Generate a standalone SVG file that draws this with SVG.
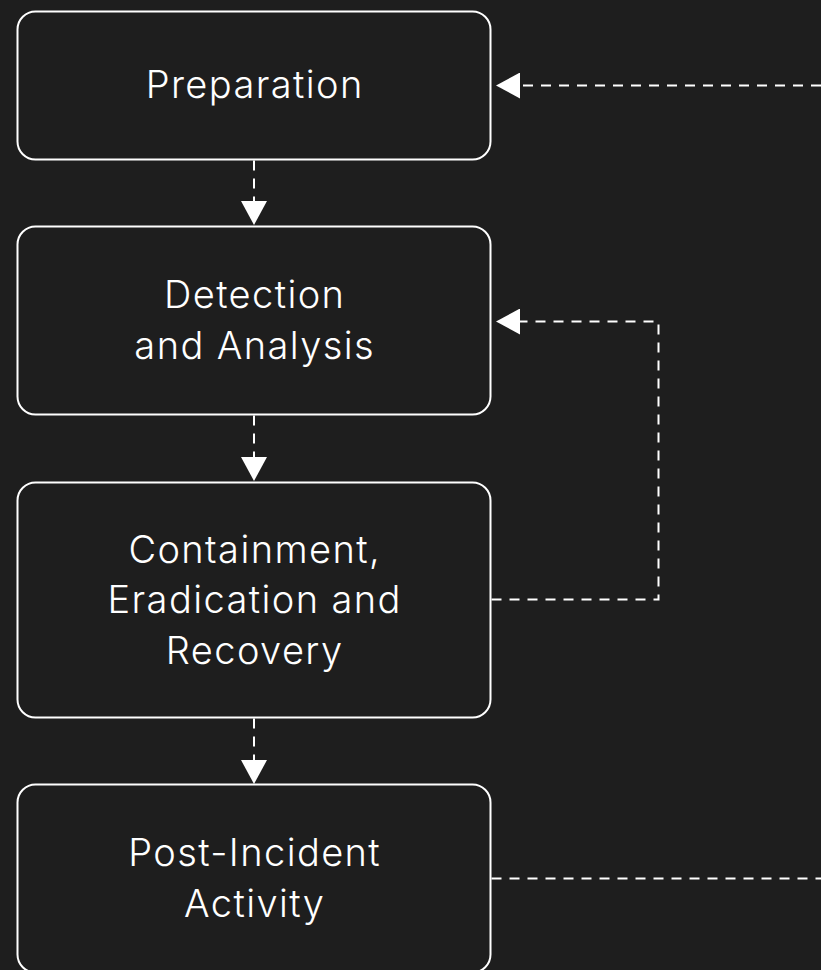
<svg xmlns="http://www.w3.org/2000/svg" width="821" height="970" viewBox="0 0 821 970">
  <style>
    .box { fill: #1e1e1e; stroke: #ffffff; stroke-width: 2; }
    .lbl { fill: #ffffff; font-family: Inter, "Noto Sans", "Liberation Sans", sans-serif; font-size: 38px; font-weight: 300; letter-spacing: 1.4px; text-anchor: middle; }
    .conn { fill: none; stroke: #ffffff; stroke-width: 2; stroke-dasharray: 10 8; }
  </style>
  <defs>
    <marker id="arrow" markerUnits="userSpaceOnUse" markerWidth="24" markerHeight="26" viewBox="0 0 24 26" refX="0" refY="13" orient="auto">
      <path d="M0,0 L24,13 L0,26 Z" fill="#ffffff"/>
    </marker>
  </defs>
  <rect width="821" height="970" fill="#1e1e1e"/>

  <g id="node-preparation">
    <rect class="box" x="17.5" y="11.5" width="473" height="148" rx="18"/>
    <text class="lbl" x="254.7" y="98">Preparation</text>
  </g>
  <g id="node-detection">
    <rect class="box" x="17.5" y="226.5" width="473" height="188" rx="18"/>
    <text class="lbl" x="254.7" y="308">Detection</text>
    <text class="lbl" x="254.7" y="359">and Analysis</text>
  </g>
  <g id="node-containment">
    <rect class="box" x="17.5" y="482.5" width="473" height="235" rx="18"/>
    <text class="lbl" x="254.7" y="563">Containment,</text>
    <text class="lbl" x="254.7" y="613">Eradication and</text>
    <text class="lbl" x="254.7" y="664">Recovery</text>
  </g>
  <g id="node-post-incident">
    <rect class="box" x="17.5" y="784.5" width="473" height="188" rx="18"/>
    <text class="lbl" x="254.7" y="866">Post-Incident</text>
    <text class="lbl" x="254.7" y="917">Activity</text>
  </g>

  <g id="connectors">
    <path class="conn" d="M254,160.5 L254,201" marker-end="url(#arrow)"/>
    <path class="conn" d="M254,415.5 L254,457" marker-end="url(#arrow)"/>
    <path class="conn" d="M254,718.5 L254,760" marker-end="url(#arrow)"/>
    <path class="conn" d="M491.5,599.5 L658.5,599.5 L658.5,321.5 L520,321.5" marker-end="url(#arrow)"/>
    <path class="conn" d="M821,85.5 L520,85.5" marker-end="url(#arrow)"/>
    <path class="conn" d="M491.5,878.5 L821,878.5"/>
  </g>
</svg>
